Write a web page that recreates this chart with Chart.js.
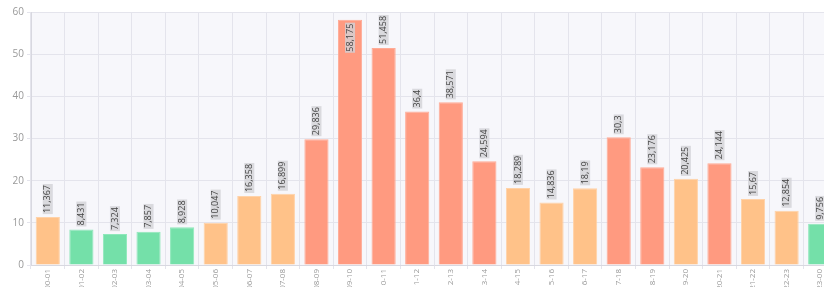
<!DOCTYPE html>
<html>
<head>
<meta charset="utf-8">
<script src="https://cdn.jsdelivr.net/npm/chart.js@4"></script>
<style>
  html, body { margin: 0; padding: 0; background: #fff; overflow: hidden; }
  #wrap { width: 824px; height: 287px; overflow: hidden; }
</style>
</head>
<body>
<div id="wrap"><canvas id="hourChart" width="846" height="302"></canvas></div>
<script>
// hours of the day
const hours = ["00-01","01-02","02-03","03-04","04-05","05-06","06-07","07-08","08-09","09-10","10-11","11-12",
               "12-13","13-14","14-15","15-16","16-17","17-18","18-19","19-20","20-21","21-22","22-23","23-00"];
const values = [11.367, 8.431, 7.324, 7.857, 8.928, 10.047, 16.358, 16.899, 29.836, 58.175, 51.458, 36.4,
                38.571, 24.594, 18.289, 14.836, 18.19, 30.3, 23.176, 20.425, 24.144, 15.67, 12.854, 9.756];
const yTicks = [0, 10, 20, 30, 40, 50, 60];

function barColor(v) {
    if (v < 10) return '#74e0a9';
    if (v < 21) return '#ffc289';
    return '#ff9a80';
}
function barBorder(v) {
    if (v < 10) return '#8fe8bb';
    if (v < 21) return '#ffd2a8';
    return '#ffab96';
}

// light background behind the plot
const plotBg = {
    id: 'plotBg',
    beforeDraw(chart) {
        const a = chart.chartArea, ctx = chart.ctx;
        ctx.save();
        ctx.fillStyle = '#f7f7fb';
        ctx.fillRect(a.left, a.top, a.right - a.left, a.bottom - a.top);
        ctx.restore();
    }
};

// rotated value labels above each bar
const valueLabels = {
    id: 'valueLabels',
    afterDatasetsDraw(chart) {
        const ctx = chart.ctx;
        const meta = chart.getDatasetMeta(0);
        ctx.save();
        ctx.font = '9px "Open Sans", sans-serif';
        ctx.textBaseline = 'middle';
        meta.data.forEach((bar, i) => {
            const txt = String(values[i]).replace('.', ',');
            const w = ctx.measureText(txt).width;
            let start = bar.y - 4;
            if (start - w < chart.chartArea.top + 2) start = bar.y + 4 + w; // inside the bar
            ctx.save();
            ctx.translate(bar.x, start);
            ctx.rotate(-Math.PI / 2);
            ctx.fillStyle = 'rgba(210,210,215,0.8)';
            ctx.fillRect(-1, -5, w + 2, 10);
            ctx.fillStyle = '#444';
            ctx.textAlign = 'left';
            ctx.fillText(txt, 0, 0);
            ctx.restore();
        });
        ctx.restore();
    }
};

new Chart(document.getElementById('hourChart'), {
    type: 'bar',
    data: {
        labels: hours,
        datasets: [{
            data: values,
            backgroundColor: values.map(barColor),
            borderColor: values.map(barBorder),
            borderWidth: 1
        }]
    },
    options: {
        responsive: false,
        animation: false,
        layout: { padding: { top: 12, right: 9 } },
        plugins: { legend: { display: false }, tooltip: { enabled: false } },
        scales: {
            x: {
                grid: { color: '#e4e4ec', tickLength: 4 },
                border: { color: '#d8d8e0' },
                ticks: {
                    color: '#999', font: { size: 8, family: 'Open Sans' },
                    minRotation: 90, maxRotation: 90, autoSkip: false, padding: 0
                },
                afterFit(s) { s.height = 37; }
            },
            y: {
                min: 0, max: 60,
                afterBuildTicks(s) { s.ticks = yTicks.map(v => ({ value: v })); },
                grid: { color: '#e4e4ec', tickLength: 4 },
                border: { color: '#d8d8e0' },
                ticks: { color: '#999', font: { size: 10, family: 'Open Sans' }, padding: 3 },
                afterFit(s) { s.width = 31; }
            }
        }
    },
    plugins: [plotBg, valueLabels]
});
</script>
</body>
</html>
